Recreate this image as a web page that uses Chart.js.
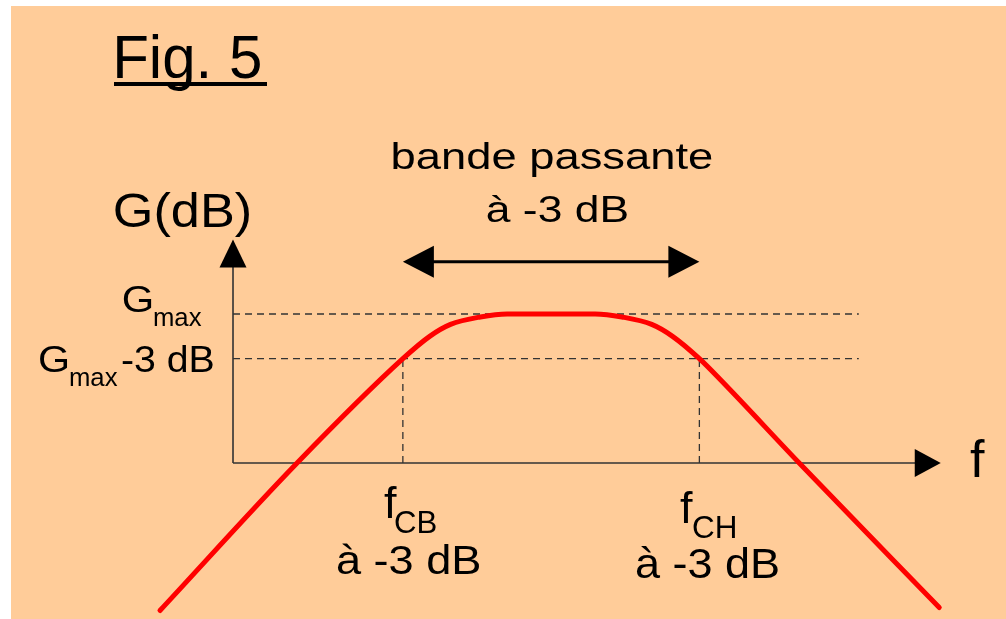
<!DOCTYPE html>
<html>
<head>
<meta charset="utf-8">
<title>Fig. 5 - bande passante</title>
<script src="https://cdn.jsdelivr.net/npm/chart.js@4.4.1/dist/chart.umd.min.js"></script>
<style>
    html, body { margin: 0; padding: 0; background: #ffffff; }
    #wrap { width: 1006px; height: 619px; position: relative; }
</style>
</head>
<body>
<div id="wrap"><canvas id="bandChart"></canvas></div>
<script>
// gain curve of a band-pass filter (f in arbitrary units, G in dB)
const curveF = [-4.9, 4.3, 11.4, 13.2, 14.6, 16.6, 18.4, 24.3, 26.1, 28.1, 29.5, 31.3, 32.7, 38.0, 47.4];
const curveG = [-9.9, 0, 7, 8.5, 9.3, 9.8, 10, 10, 9.8, 9.3, 8.5, 7, 5.6, 0, -9.7];

const gMax = 10;
const gCut = 7;          // Gmax - 3 dB
const fCB = 11.4;
const fCH = 31.3;
const guideEnd = 42;     // where the dashed horizontal guides stop
const yAxisTop = 15;
const xAxisEnd = 47.5;
const bandArrowG = 13.5;

const titleText = 'Fig. 5';
const yAxisTitle = 'G(dB)';
const xAxisTitle = 'f';
const bandText = ['bande passante', 'à -3 dB'];
const lowLabel = ['f', 'CB', 'à -3 dB'];
const highLabel = ['f', 'CH', 'à -3 dB'];
const gMaxLabel = ['G', 'max'];
const gCutLabel = ['G', 'max', '-3 dB'];

const FONT = '"Liberation Sans", Arial, sans-serif';

function toPoints(xs, ys) {
    return xs.map((x, i) => ({ x: x, y: ys[i] }));
}

function drawStretched(ctx, str, inkLeft, baseline, size, inkWidth) {
    ctx.font = size + 'px ' + FONT;
    const m = ctx.measureText(str);
    const w = m.actualBoundingBoxLeft + m.actualBoundingBoxRight;
    const sx = inkWidth ? inkWidth / w : 1;
    ctx.save();
    ctx.translate(inkLeft + m.actualBoundingBoxLeft * sx, baseline);
    ctx.scale(sx, 1);
    ctx.fillText(str, 0, 0);
    ctx.restore();
}

function arrowHead(ctx, tipX, tipY, dx, dy, len, half) {
    // dx, dy: unit direction the arrow points to
    const bx = tipX - dx * len;
    const by = tipY - dy * len;
    ctx.beginPath();
    ctx.moveTo(tipX, tipY);
    ctx.lineTo(bx - dy * half, by + dx * half);
    ctx.lineTo(bx + dy * half, by - dx * half);
    ctx.closePath();
    ctx.fill();
}

const backgroundPlugin = {
    id: 'peachBackground',
    beforeDraw(chart) {
        const ctx = chart.ctx;
        ctx.save();
        ctx.fillStyle = '#ffffff';
        ctx.fillRect(0, 0, chart.width, chart.height);
        ctx.fillStyle = '#ffcc99';
        ctx.fillRect(11, 6, chart.width - 11, chart.height - 6);
        ctx.restore();
    }
};

const axesPlugin = {
    id: 'drawnAxes',
    beforeDatasetsDraw(chart) {
        const ctx = chart.ctx;
        const xs = chart.scales.x;
        const ys = chart.scales.y;
        const x0 = xs.getPixelForValue(0);
        const y0 = ys.getPixelForValue(0);
        const yTop = ys.getPixelForValue(yAxisTop);
        const xEnd = xs.getPixelForValue(xAxisEnd);

        ctx.save();
        ctx.strokeStyle = '#333333';
        ctx.fillStyle = '#000000';
        ctx.lineWidth = 1.6;
        ctx.beginPath();
        ctx.moveTo(x0, y0);
        ctx.lineTo(x0, yTop + 20);
        ctx.moveTo(x0, y0);
        ctx.lineTo(xEnd - 20, y0);
        ctx.stroke();
        arrowHead(ctx, x0, yTop, 0, -1, 28, 13.5);
        arrowHead(ctx, xEnd, y0, 1, 0, 26, 14);

        // double arrow of the pass band
        const ay = ys.getPixelForValue(bandArrowG);
        const ax1 = xs.getPixelForValue(fCB);
        const ax2 = xs.getPixelForValue(fCH);
        ctx.strokeStyle = '#000000';
        ctx.lineWidth = 3;
        ctx.beginPath();
        ctx.moveTo(ax1 + 20, ay);
        ctx.lineTo(ax2 - 20, ay);
        ctx.stroke();
        arrowHead(ctx, ax1, ay, -1, 0, 31, 16);
        arrowHead(ctx, ax2, ay, 1, 0, 31, 16);
        ctx.restore();
    },
    afterDraw(chart) {
        const ctx = chart.ctx;
        ctx.save();
        ctx.fillStyle = '#000000';
        ctx.textBaseline = 'alphabetic';

        drawStretched(ctx, titleText, 117, 78, 62, 143);
        ctx.fillRect(114, 82, 153, 4);

        drawStretched(ctx, bandText[0], 393, 169, 36, 319);
        drawStretched(ctx, bandText[1], 487, 222, 37, 140);

        drawStretched(ctx, yAxisTitle, 115, 227, 48, 135);
        drawStretched(ctx, xAxisTitle, 970, 477, 52, 15);

        drawStretched(ctx, gMaxLabel[0], 123, 312, 36, 29);
        drawStretched(ctx, gMaxLabel[1], 154, 326, 25, 48);

        drawStretched(ctx, gCutLabel[0], 39, 372, 37, 29);
        drawStretched(ctx, gCutLabel[1], 70, 386, 25, 48);
        drawStretched(ctx, gCutLabel[2], 122, 372, 37, 91);

        drawStretched(ctx, lowLabel[0], 384, 518, 45, 0);
        drawStretched(ctx, lowLabel[1], 395, 533, 32, 41);
        drawStretched(ctx, lowLabel[2], 337, 574, 41, 143);

        drawStretched(ctx, highLabel[0], 680, 523, 45, 0);
        drawStretched(ctx, highLabel[1], 693, 538, 31, 42);
        drawStretched(ctx, highLabel[2], 636, 578, 42, 142);
        ctx.restore();
    }
};

const guideStyle = {
    borderColor: '#333333',
    borderWidth: 1.3,
    borderDash: [7, 5],
    pointRadius: 0,
    tension: 0,
    order: 2
};

const ctx = document.getElementById('bandChart').getContext('2d');
const bandChart = new Chart(ctx, {
    type: 'line',
    data: {
        datasets: [
            {
                label: 'G(f)',
                data: toPoints(curveF, curveG),
                borderColor: '#ff0000',
                borderWidth: 5,
                borderCapStyle: 'round',
                borderJoinStyle: 'round',
                pointRadius: 0,
                cubicInterpolationMode: 'monotone',
                order: 1
            },
            Object.assign({ label: 'Gmax', data: toPoints([0, guideEnd], [gMax, gMax]) }, guideStyle),
            Object.assign({ label: 'Gmax-3 dB', data: toPoints([0, guideEnd], [gCut, gCut]) }, guideStyle),
            Object.assign({ label: 'fCB', data: toPoints([fCB, fCB], [0, gCut]) }, guideStyle),
            Object.assign({ label: 'fCH', data: toPoints([fCH, fCH], [0, gCut]) }, guideStyle)
        ]
    },
    options: {
        responsive: true,
        maintainAspectRatio: false,
        animation: false,
        layout: { padding: 0 },
        plugins: {
            legend: { display: false },
            tooltip: { enabled: false }
        },
        scales: {
            x: { type: 'linear', display: false, min: -15.638, max: 51.879 },
            y: { type: 'linear', display: false, min: -10.470, max: 31.074 }
        }
    },
    plugins: [backgroundPlugin, axesPlugin]
});
</script>
</body>
</html>
